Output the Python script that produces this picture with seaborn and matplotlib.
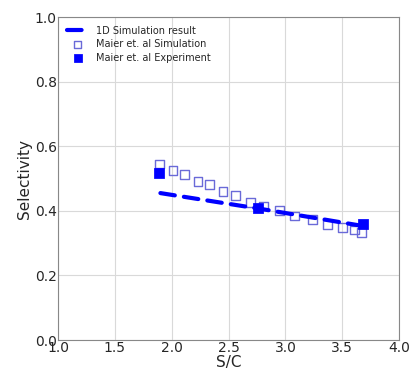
import numpy as np
import pandas as pd
import matplotlib
matplotlib.use("Agg")
import matplotlib.pyplot as plt
import seaborn as sns

# 1D simulation line
sim1d_sc = [1.9, 2.8, 3.7]
sim1d_sel = [0.455, 0.405, 0.352]

# Maier et al. simulation (hollow squares)
maier_sim_sc = [1.89, 2.01, 2.11, 2.23, 2.33, 2.45, 2.56, 2.69, 2.81, 2.95,
                3.08, 3.24, 3.37, 3.50, 3.61, 3.67]
maier_sim_sel = [0.545, 0.526, 0.513, 0.492, 0.482, 0.461, 0.447, 0.426, 0.415,
                 0.400, 0.384, 0.372, 0.358, 0.349, 0.341, 0.333]

# Maier et al. experiment (filled squares)
maier_exp_sc = [1.89, 2.76, 3.68]
maier_exp_sel = [0.516, 0.408, 0.358]

sns.set_style("whitegrid", {"grid.color": "#d9d9d9", "axes.edgecolor": "#888888"})

fig = plt.figure(figsize=(4.09, 3.72), dpi=100)
ax = fig.add_axes([0.142, 0.086, 0.834, 0.868])

df_line = pd.DataFrame({"S/C": sim1d_sc, "Selectivity": sim1d_sel})
sns.lineplot(data=df_line, x="S/C", y="Selectivity", ax=ax, color="blue",
             linestyle=(0, (3.5, 2.2)), linewidth=3, dash_capstyle="round",
             label="1D Simulation result")

df_sim = pd.DataFrame({"S/C": maier_sim_sc, "Selectivity": maier_sim_sel})
sns.scatterplot(data=df_sim, x="S/C", y="Selectivity", ax=ax, marker="s", s=40,
                facecolor="none", edgecolor="#6a6ad8", linewidth=1,
                label="Maier et. al Simulation")

df_exp = pd.DataFrame({"S/C": maier_exp_sc, "Selectivity": maier_exp_sel})
sns.scatterplot(data=df_exp, x="S/C", y="Selectivity", ax=ax, marker="s", s=45,
                color="blue", edgecolor="blue", label="Maier et. al Experiment")

ax.set_xlim(1.0, 4.0)
ax.set_ylim(0.0, 1.0)
ax.set_xticks(np.arange(1.0, 4.01, 0.5))
ax.set_yticks(np.arange(0.0, 1.01, 0.2))
ax.set_xticklabels([f"{v:.1f}" for v in np.arange(1.0, 4.01, 0.5)])
ax.set_yticklabels([f"{v:.1f}" for v in np.arange(0.0, 1.01, 0.2)])
ax.tick_params(labelsize=10, pad=1, length=0)
ax.set_xlabel("S/C", fontsize=11, labelpad=0)
ax.set_ylabel("Selectivity", fontsize=11, labelpad=2)

ax.legend(loc="upper left", fontsize=7, frameon=False, handlelength=2.2,
          labelspacing=0.35, markerscale=0.8)

fig.savefig("out.png", dpi=100)
